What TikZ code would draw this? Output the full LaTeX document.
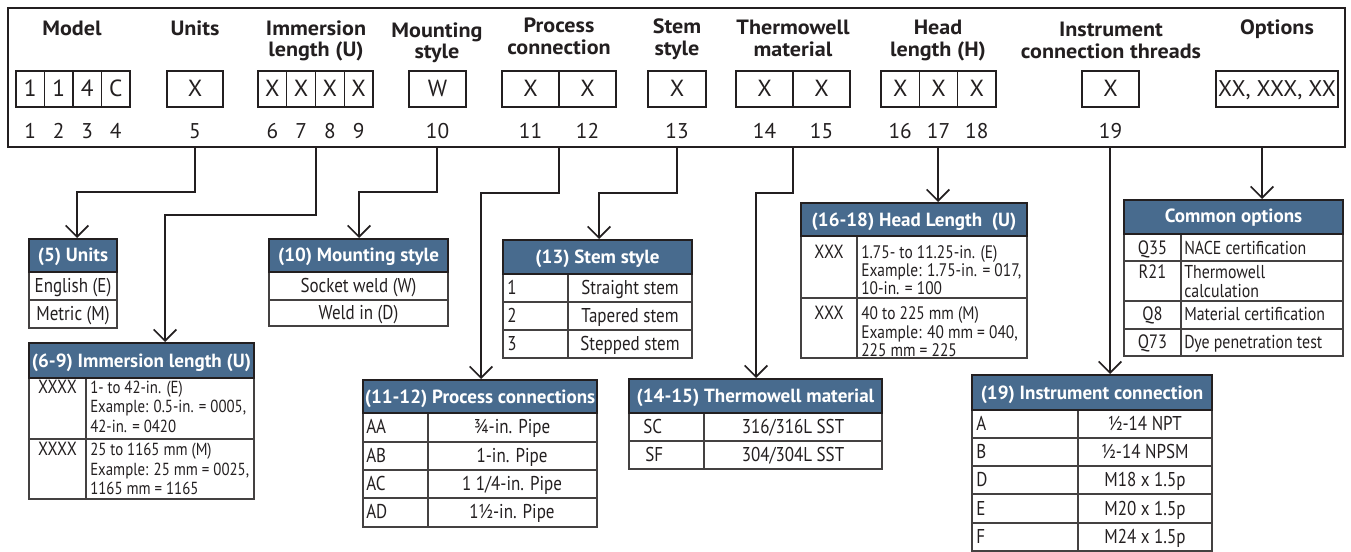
\documentclass[tikz,border=0pt]{standalone}
\usepackage{fontspec}
\setmainfont{PT Sans}
\newfontfamily\cond{PT Sans}[FakeStretch=0.85]
\newfontfamily\wide{PT Sans}[FakeStretch=1.07]
\usetikzlibrary{arrows.meta,fit}
\definecolor{hdrblue}{RGB}{72,107,142}
\definecolor{ink}{RGB}{35,31,32}
\newcommand\cbox[4]{\draw[cellline] (#1,#2) rectangle (#3,#4);}
\begin{document}
\begin{tikzpicture}[x=0.75pt,y=-0.75pt,
  every node/.style={text=ink, inner sep=0pt},
  frameline/.style={line width=1.8pt, draw=ink},
  digline/.style={line width=0.9pt, draw=ink},
  conn/.style={line width=1.3pt, draw=ink},
  arr/.style={conn, -{Straight Barb[length=8.5pt,width=17pt,line width=1.3pt]}},
  ttl/.style={anchor=base, font=\wide\bfseries\fontsize{15.5}{17}\selectfont},
  dig/.style={anchor=base, font=\fontsize{17.5}{20}\selectfont},
  num/.style={anchor=base, font=\fontsize{16}{19}\selectfont},
  thead/.style={draw=ink, line width=1.5pt, fill=hdrblue, text=white, inner sep=0pt},
  thtext/.style={anchor=base, text=white, font=\bfseries\fontsize{14.3}{16}\selectfont},
  cellline/.style={draw=ink!85, line width=0.9pt},
  body/.style={anchor=base, font=\cond\fontsize{15}{18}\selectfont},
  bodyl/.style={body, anchor=base west},
  small/.style={anchor=base west, font=\cond\fontsize{13.6}{16}\selectfont},
  smalli/.style={anchor=base west, font=\cond\fontsize{13.1}{16}\selectfont},
  smallc/.style={anchor=base, font=\cond\fontsize{14.3}{16}\selectfont},
  opt/.style={anchor=base west, font=\cond\fontsize{14}{16}\selectfont},
  optc/.style={anchor=base, font=\cond\fontsize{14.5}{16}\selectfont}
]
\useasboundingbox (0,0) rectangle (1351,552);

% ---------- header frame ----------
\draw[frameline] (8,8) rectangle (1345,147);

% titles
\node[ttl] (tModel) at (72,36) {Model};
\node[ttl] (tUnitsT) at (195,36) {Units};
\node[ttl] (tImmA) at (316,36) {Immersion};
\node[ttl] (tImmB) at (316,57) {length (U)};
\node[ttl] (tMntA) at (437,38) {Mounting};
\node[ttl] (tMntB) at (437,59) {style};
\node[ttl] (tPrcA) at (559,33) {Process};
\node[ttl] (tPrcB) at (559,55) {connection};
\node[ttl] (tStmA) at (677,34) {Stem};
\node[ttl] (tStmB) at (677,56) {style};
\node[ttl] (tThmA) at (793,35) {Thermowell};
\node[ttl] (tThmB) at (793,57) {material};
\node[ttl] (tHdA) at (938,35) {Head};
\node[ttl] (tHdB) at (938,57) {length (H)};
\node[ttl] (tInsA) at (1111,37) {Instrument};
\node[ttl] (tInsB) at (1111,59) {connection threads};
\node[ttl] (tOpt) at (1277,35) {Options};

% digit boxes
\draw[digline] (16,71) rectangle (130,107);
\draw[digline] (44.5,71) -- (44.5,107) (73,71) -- (73,107) (101.5,71) -- (101.5,107);
\draw[digline] (167,71) rectangle (223,107);
\draw[digline] (258,71) rectangle (373,107);
\draw[digline] (286.75,71) -- (286.75,107) (315.5,71) -- (315.5,107) (344.25,71) -- (344.25,107);
\draw[digline] (409,71) rectangle (466,107);
\draw[digline] (502,71) rectangle (616,107);
\draw[digline] (559,71) -- (559,107);
\draw[digline] (648,71) rectangle (706,107);
\draw[digline] (736,71) rectangle (850,107);
\draw[digline] (793,71) -- (793,107);
\draw[digline] (881,71) rectangle (996,107);
\draw[digline] (919.3,71) -- (919.3,107) (957.7,71) -- (957.7,107);
\draw[digline] (1082,71) rectangle (1139,107);
\draw[digline] (1216,71) rectangle (1338,107);

% digits
\node[dig] (d1) at (30.25,97) {1};
\node[dig] (d2) at (58.75,97) {1};
\node[dig] (d3) at (87.25,97) {4};
\node[dig] (d4) at (115.75,97) {C};
\node[dig] (d5) at (195,97) {X};
\node[dig] (d6) at (272.4,97) {X};
\node[dig] (d7) at (301.1,97) {X};
\node[dig] (d8) at (329.9,97) {X};
\node[dig] (d9) at (358.6,97) {X};
\node[dig] (d10) at (437.5,97) {W};
\node[dig] (d11) at (530.5,97) {X};
\node[dig] (d12) at (587.5,97) {X};
\node[dig] (d13) at (677,97) {X};
\node[dig] (d14) at (764.5,97) {X};
\node[dig] (d15) at (821.5,97) {X};
\node[dig] (d16) at (900.2,97) {X};
\node[dig] (d17) at (938.5,97) {X};
\node[dig] (d18) at (976.8,97) {X};
\node[dig] (d19) at (1110.5,97) {X};
\node[dig, font=\fontsize{17}{20}\selectfont] (dOpt) at (1277,97) {XX, XXX, XX};

% position numbers
\node[num] (n1) at (30.25,139) {1};
\node[num] (n2) at (58.75,139) {2};
\node[num] (n3) at (87.25,139) {3};
\node[num] (n4) at (115.75,139) {4};
\node[num] (n5) at (195,139) {5};
\node[num] (n6) at (272.4,139) {6};
\node[num] (n7) at (301.1,139) {7};
\node[num] (n8) at (329.9,139) {8};
\node[num] (n9) at (358.6,139) {9};
\node[num] (n10) at (437.5,139) {10};
\node[num] (n11) at (530.5,139) {11};
\node[num] (n12) at (587.5,139) {12};
\node[num] (n13) at (677,139) {13};
\node[num] (n14) at (764.5,139) {14};
\node[num] (n15) at (821.5,139) {15};
\node[num] (n16) at (900.2,139) {16};
\node[num] (n17) at (938.5,139) {17};
\node[num] (n18) at (976.8,139) {18};
\node[num] (n19) at (1110.5,139) {19};

% ---------- table bodies ----------
% Units
\cbox{29}{272}{117}{300}\cbox{29}{300}{117}{328}
\node[body] (uE) at (73,292) {English (E)};
\node[body] (uM) at (73,320) {Metric (M)};
% Immersion
\cbox{29}{378}{254}{439}\cbox{29}{439}{254}{499}
\draw[cellline] (86,378) -- (86,499);
\node[smallc] (iX1) at (57.5,393) {XXXX};
\node[smalli] (i11) at (90,393) {1- to 42-in. (E)};
\node[smalli] (i12) at (90,412) {Example: 0.5-in. = 0005,};
\node[smalli] (i13) at (90,432) {42-in. = 0420};
\node[smallc] (iX2) at (57.5,455) {XXXX};
\node[smalli] (i21) at (90,455) {25 to 1165 mm (M)};
\node[smalli] (i22) at (90,475) {Example: 25 mm = 0025,};
\node[smalli] (i23) at (90,494) {1165 mm = 1165};
% Mounting
\cbox{269}{272}{448}{300}\cbox{269}{300}{448}{326}
\node[body] (mW) at (358.5,292) {Socket weld (W)};
\node[body] (mD) at (358.5,319) {Weld in (D)};
% Stem
\cbox{503}{274}{692}{302}\cbox{503}{302}{692}{330}\cbox{503}{330}{692}{358}
\draw[cellline] (568,274) -- (568,358);
\node[bodyl] (s1) at (507,294) {1};
\node[body] (s1t) at (630,294) {Straight stem};
\node[bodyl] (s2) at (507,322) {2};
\node[body] (s2t) at (630,322) {Tapered stem};
\node[bodyl] (s3) at (507,350) {3};
\node[body] (s3t) at (630,350) {Stepped stem};
% Process
\cbox{363}{413}{597}{442}\cbox{363}{442}{597}{470}\cbox{363}{470}{597}{498}\cbox{363}{498}{597}{527}
\draw[cellline] (428,413) -- (428,527);
\node[bodyl] (pA) at (366,433) {AA};
\node[body] (pAt) at (512,433) {¾-in. Pipe};
\node[bodyl] (pB) at (366,462) {AB};
\node[body] (pBt) at (512,462) {1-in. Pipe};
\node[bodyl] (pC) at (366,490) {AC};
\node[body] (pCt) at (512,490) {1 1/4-in. Pipe};
\node[bodyl] (pD) at (366,518) {AD};
\node[body] (pDt) at (512,518) {1½-in. Pipe};
% Thermowell
\cbox{629}{413}{882}{441}\cbox{629}{441}{882}{469}
\draw[cellline] (704,413) -- (704,469);
\node[bodyl] (wSC) at (643,433) {SC};
\node[body] (wSCt) at (793,433) {316/316L SST};
\node[bodyl] (wSF) at (645,461) {SF};
\node[body] (wSFt) at (793,461) {304/304L SST};
% Head
\cbox{801}{236}{1027}{298}\cbox{801}{298}{1027}{358}
\draw[cellline] (857,236) -- (857,358);
\node[smallc] (hX1) at (829,258) {XXX};
\node[small] (h11) at (861,258) {1.75- to 11.25-in. (E)};
\node[small] (h12) at (861,276) {Example: 1.75-in. = 017,};
\node[small] (h13) at (861,294) {10-in. = 100};
\node[smallc] (hX2) at (829,319) {XXX};
\node[small] (h21) at (861,319) {40 to 225 mm (M)};
\node[small] (h22) at (861,338) {Example: 40 mm = 040,};
\node[small] (h23) at (861,356) {225 mm = 225};
% Options
\cbox{1124}{234}{1343}{261}\cbox{1124}{261}{1343}{301}\cbox{1124}{301}{1343}{329}\cbox{1124}{329}{1343}{356}
\draw[cellline] (1181,234) -- (1181,356);
\node[optc] (oQ35) at (1152.5,254) {Q35};
\node[opt] (oQ35t) at (1184,254) {NACE certification};
\node[optc] (oR21) at (1152.5,278) {R21};
\node[opt] (oR21a) at (1184,278) {Thermowell};
\node[opt] (oR21b) at (1184,297) {calculation};
\node[optc] (oQ8) at (1152.5,320) {Q8};
\node[opt] (oQ8t) at (1184,320) {Material certification};
\node[optc] (oQ73) at (1152.5,348) {Q73};
\node[opt] (oQ73t) at (1184,348) {Dye penetration test};
% Instrument
\cbox{972}{410}{1212}{438}\cbox{972}{438}{1212}{466}\cbox{972}{466}{1212}{494}\cbox{972}{494}{1212}{523}\cbox{972}{523}{1212}{551}
\draw[cellline] (1078,410) -- (1078,551);
\node[bodyl] (cA) at (976,430) {A};
\node[body] (cAt) at (1145,430) {½-14 NPT};
\node[bodyl] (cB) at (976,458) {B};
\node[body] (cBt) at (1145,458) {½-14 NPSM};
\node[bodyl] (cD) at (976,486) {D};
\node[body] (cDt) at (1145,486) {M18 x 1.5p};
\node[bodyl] (cE) at (976,515) {E};
\node[body] (cEt) at (1145,515) {M20 x 1.5p};
\node[bodyl] (cF) at (976,543) {F};
\node[body] (cFt) at (1145,543) {M24 x 1.5p};

% ---------- table headers ----------
\node[thead, fit={(29,239)(117,272)}] (tUnits) {};
\node[thtext] (hUnits) at (73,262) {(5) Units};
\node[thead, fit={(29,343)(254,378)}] (tImm) {};
\node[thtext] (hImm) at (141.5,367) {(6-9) Immersion length (U)};
\node[thead, fit={(269,239)(448,272)}] (tMnt) {};
\node[thtext] (hMnt) at (358.5,262) {(10) Mounting style};
\node[thead, fit={(503,240)(692,274)}] (tStm) {};
\node[thtext] (hStm) at (597.5,263) {(13) Stem style};
\node[thead, fit={(363,380)(597,413)}] (tPrc) {};
\node[thtext] (hPrc) at (480,403) {(11-12) Process connections};
\node[thead, fit={(629,379)(882,413)}] (tThm) {};
\node[thtext] (hThm) at (755.5,402) {(14-15) Thermowell material};
\node[thead, fit={(801,203)(1027,236)}] (tHd) {};
\node[thtext] (hHd) at (914,226) {(16-18) Head Length\ \ (U)};
\node[thead, fit={(1124,200)(1343,234)}] (tOptT) {};
\node[thtext] (hOpt) at (1233.5,223) {Common options};
\node[thead, fit={(972,375)(1212,410)}] (tIns) {};
\node[thtext] (hIns) at (1092,399) {(19) Instrument connection};

% ---------- connectors ----------
\coordinate (sU) at (195,147);   \coordinate (bU) at (77,192);
\coordinate (sI) at (316,147);   \coordinate (bI) at (165,215);
\coordinate (sM) at (437,147);   \coordinate (bM) at (359,192);
\coordinate (sP) at (559,147);   \coordinate (bP) at (481,193);
\coordinate (sS) at (677,147);   \coordinate (bS) at (599,193);
\coordinate (sT) at (793,147);   \coordinate (bT) at (756,193);
\coordinate (sH) at (938,147);
\coordinate (sC) at (1110,147);
\coordinate (sO) at (1262,147);
\draw[arr] (sU) |- (bU) -- (bU |- tUnits.north);
\draw[arr] (sI) |- (bI) -- (bI |- tImm.north);
\draw[arr] (sM) |- (bM) -- (bM |- tMnt.north);
\draw[arr] (sP) |- (bP) -- (bP |- tPrc.north);
\draw[arr] (sS) |- (bS) -- (bS |- tStm.north);
\draw[arr] (sT) |- (bT) -- (bT |- tThm.north);
\draw[arr] (sH) -- (sH |- tHd.north);
\draw[arr] (sC) -- (sC |- tIns.north);
\draw[arr] (sO) -- (sO |- tOptT.north);
\end{tikzpicture}
\end{document}
